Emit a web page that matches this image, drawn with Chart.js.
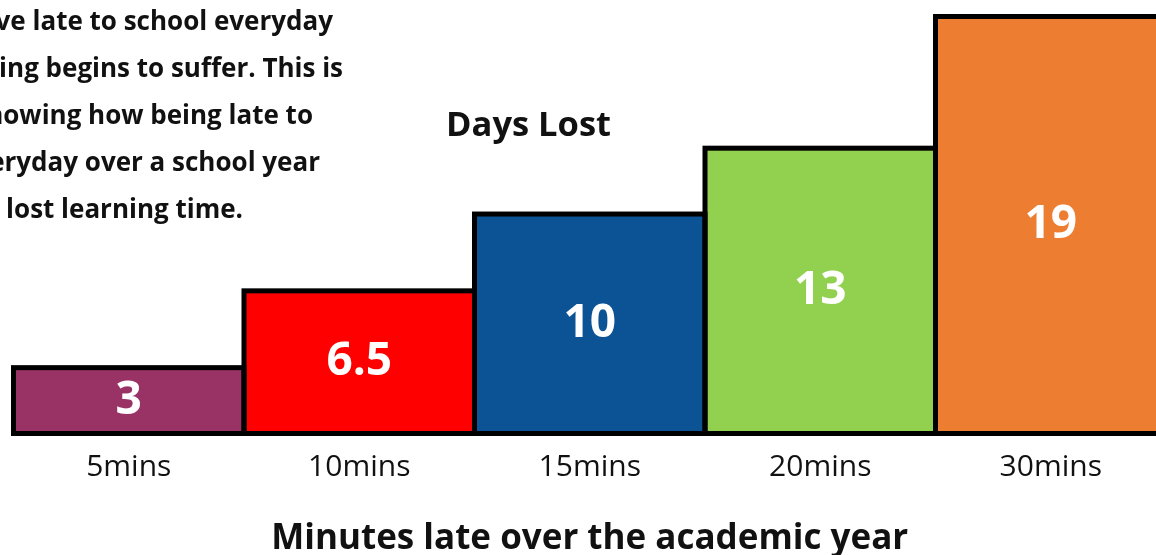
<!DOCTYPE html>
<html>
<head>
<meta charset="utf-8">
<script src="https://cdn.jsdelivr.net/npm/chart.js@4.4.1/dist/chart.umd.min.js"></script>
<style>
  html, body { margin:0; padding:0; background:#fff; overflow:hidden; }
  #wrap { position:relative; width:1156px; height:555px; overflow:hidden; }
  #cv { position:absolute; left:0; top:0; }
  .note { position:absolute; font-family:"Open Sans", sans-serif; font-weight:700; color:#111;
          white-space:nowrap; font-size:26px; line-height:30px; }
  #days { position:absolute; left:446px; top:103px; font-family:"Open Sans", sans-serif;
          font-weight:700; font-size:34.5px; line-height:40px; color:#111; white-space:nowrap; }
</style>
</head>
<body>
<div id="wrap">
  <canvas id="cv" width="1170" height="555" style="width:1170px;height:555px"></canvas>
  <div id="notes"></div>
  <div id="days">Days Lost</div>
</div>
<script>
// ── data ────────────────────────────────────────────────────
const categories = ['5mins', '10mins', '15mins', '20mins', '30mins'];
const daysLost   = [3, 6.5, 10, 13, 19];
const barColors  = ['#993366', '#FF0000', '#0B5394', '#92D050', '#ED7D31'];
const noteLines  = [
  'If you arrive late to school everyday',
  'your learning begins to suffer. This is',
  'a chart showing how being late to',
  'school everyday over a school year',
  'adds up to lost learning time.'
];

// note text (left part runs off the page, as in the original)
const noteRight = [333, 343, 313, 320, 243];
const notesEl = document.getElementById('notes');
noteLines.forEach((t, i) => {
  const d = document.createElement('div');
  d.className = 'note';
  d.textContent = t;
  d.style.right = (1156 - noteRight[i]) + 'px';
  d.style.top = (5 + i * 47) + 'px';
  notesEl.appendChild(d);
});

// black outline centred on each bar edge, so neighbours share one seam
const outlinePlugin = {
  id: 'outline',
  afterDatasetsDraw(chart) {
    const ctx = chart.ctx;
    const meta = chart.getDatasetMeta(0);
    ctx.save();
    ctx.strokeStyle = '#000';
    ctx.lineWidth = 5;
    ctx.lineJoin = 'miter';
    meta.data.forEach(bar => {
      const p = bar.getProps(['x', 'y', 'base', 'width'], true);
      ctx.strokeRect(p.x - p.width / 2, p.y, p.width, p.base - p.y);
    });
    // value labels
    ctx.fillStyle = '#fff';
    ctx.font = 'bold 46px "Open Sans", sans-serif';
    ctx.textAlign = 'center';
    ctx.textBaseline = 'middle';
    meta.data.forEach((bar, i) => {
      const p = bar.getProps(['x', 'y', 'base'], true);
      ctx.fillText(String(daysLost[i]), p.x, (p.y + p.base) / 2);
    });
    ctx.restore();
  }
};

new Chart(document.getElementById('cv'), {
  type: 'bar',
  data: {
    labels: categories,
    datasets: [{
      data: daysLost,
      backgroundColor: barColors,
      borderWidth: 0,
      barPercentage: 1,
      categoryPercentage: 1
    }]
  },
  options: {
    responsive: false,
    animation: false,
    layout: { padding: { left: 13.5, right: 4, top: 16.5, bottom: 0 } },
    plugins: { legend: { display: false }, tooltip: { enabled: false } },
    scales: {
      x: {
        grid: { display: false, drawTicks: false },
        border: { display: false },
        ticks: { color: '#111', padding: 19, font: { family: 'Open Sans', size: 30, lineHeight: 1.0 } },
        title: {
          display: true,
          text: 'Minutes late over the academic year',
          color: '#111',
          padding: { top: 22, bottom: 0 },
          font: { family: 'Open Sans', size: 35, weight: 'bold', lineHeight: 0.9 }
        }
      },
      y: { display: false, min: 0, max: 19 }
    }
  },
  plugins: [outlinePlugin]
});
</script>
</body>
</html>
